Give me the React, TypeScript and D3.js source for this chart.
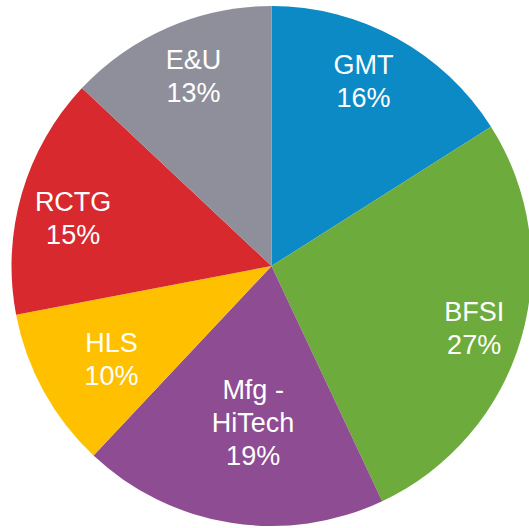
import React from 'react';
import * as d3 from 'd3';

const categories = ['GMT', 'BFSI', 'Mfg - HiTech', 'HLS', 'RCTG', 'E&U'];
const values = [16, 27, 19, 10, 15, 13];
const labelLines = [['GMT'], ['BFSI'], ['Mfg -', 'HiTech'], ['HLS'], ['RCTG'], ['E&U']];
const colors = ['#0b8ac5', '#6dac3c', '#8e4c92', '#ffc000', '#d7292e', '#8e8f9b'];

// label placement: radius as fraction of pie radius, small angle nudge in degrees
const labelRadius = [0.796, 0.815, 0.606, 0.712, 0.785, 0.79];
const labelNudge = [-2.4, 0.8, -2.3, -1.4, -2.6, 1.1];

const W = 529;
const H = 528;
const cx = 271.5;
const cy = 266;
const R = 260;
const fontSize = 27;
const lineH = 33;

export default function App() {
    const pie = d3.pie<number>().sort(null).value(d => d);
    const arcs = pie(values);
    const arc = d3.arc<d3.PieArcDatum<number>>().innerRadius(0).outerRadius(R);

    return (
        <svg width={W} height={H} style={{ position: 'absolute', left: 0, top: 0, background: '#fff' }}>
            <g transform={`translate(${cx},${cy})`}>
                {arcs.map((a, i) => (
                    <path key={categories[i]} d={arc(a) || ''} fill={colors[i]} />
                ))}
                {arcs.map((a, i) => {
                    const mid = (a.startAngle + a.endAngle) / 2 + (labelNudge[i] * Math.PI) / 180;
                    const r = labelRadius[i] * R;
                    const x = r * Math.sin(mid);
                    const y = -r * Math.cos(mid);
                    const lines = [...labelLines[i], `${values[i]}%`];
                    const y0 = y - ((lines.length - 1) * lineH) / 2 + fontSize * 0.36;
                    return (
                        <text
                            key={'t' + i}
                            x={x}
                            y={y0}
                            textAnchor="middle"
                            fill="#fff"
                            fontFamily="'Liberation Sans', Arial, sans-serif"
                            fontSize={fontSize}
                        >
                            {lines.map((l, j) => (
                                <tspan key={j} x={x} y={y0 + j * lineH}>{l}</tspan>
                            ))}
                        </text>
                    );
                })}
            </g>
        </svg>
    );
}
